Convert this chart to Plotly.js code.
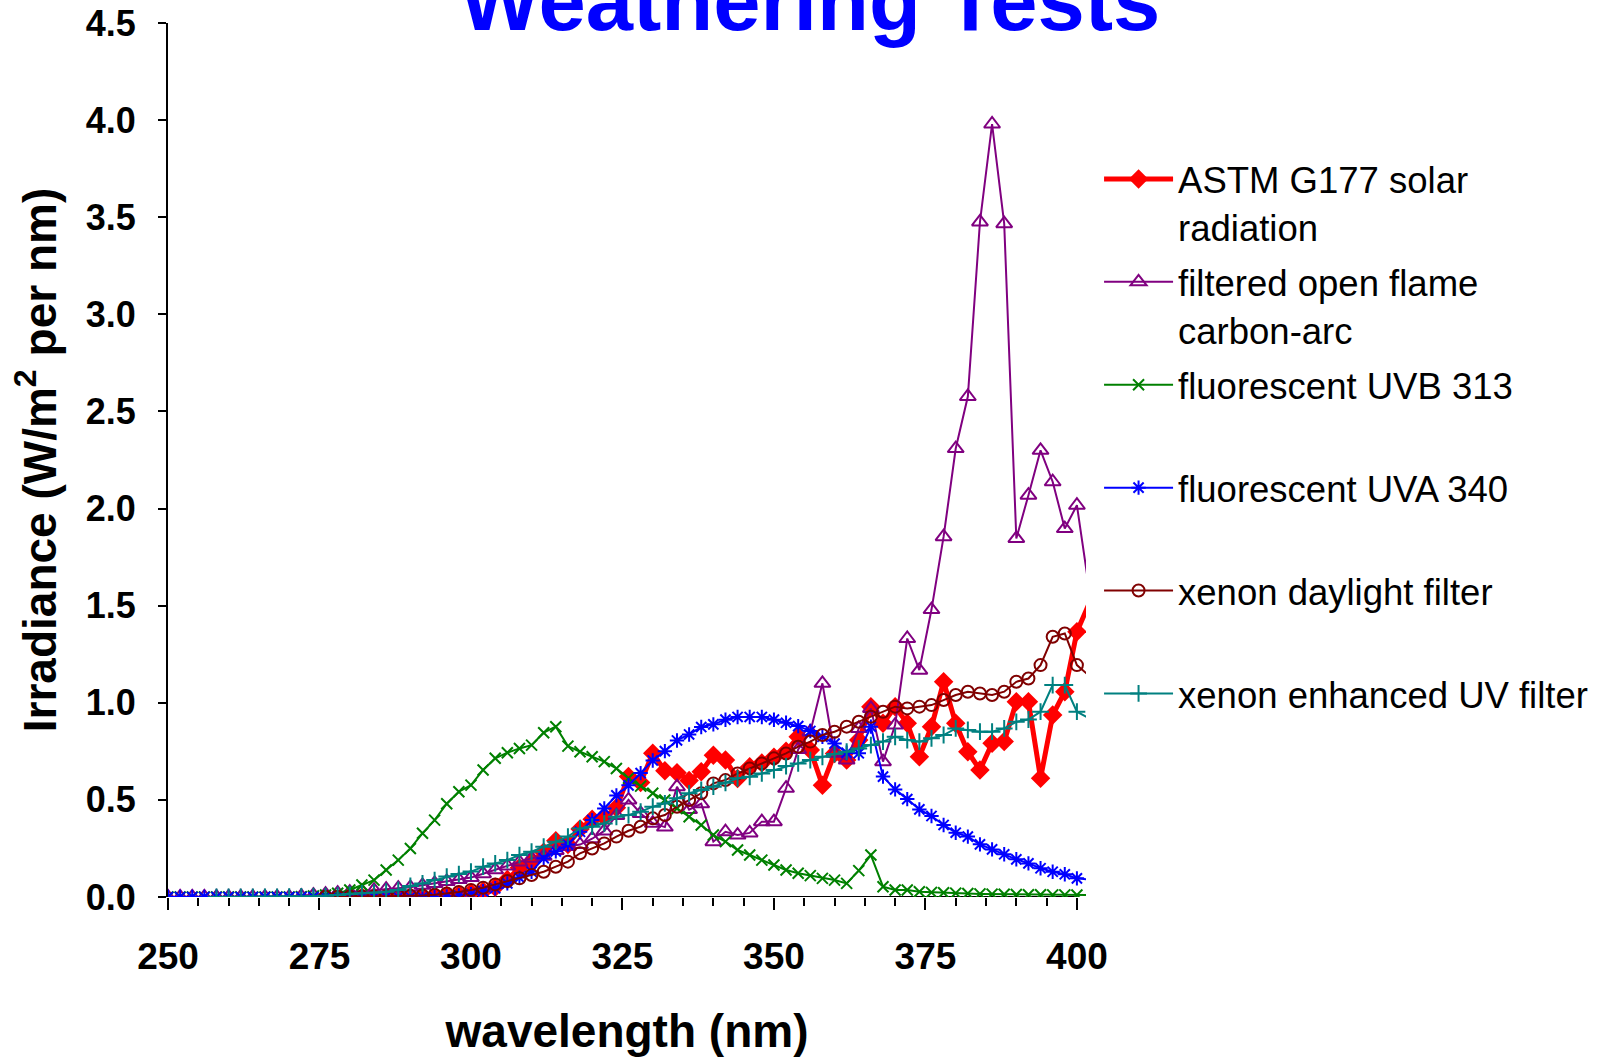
<!DOCTYPE html>
<html>
<head>
<meta charset="utf-8">
<script src="https://cdn.plot.ly/plotly-3.0.1.min.js"></script>
<style>html,body{margin:0;padding:0;background:#fff;}#chart{width:1604px;height:1057px;}</style>
</head>
<body>
<div id="chart"></div>
<script>
// wavelength (nm)
const wavelength = [
  250,252,254,256,258,260,262,264,266,268,
  270,272,274,276,278,280,282,284,286,288,
  290,292,294,296,298,300,302,304,306,308,
  310,312,314,316,318,320,322,324,326,328,
  330,332,334,336,338,340,342,344,346,348,
  350,352,354,356,358,360,362,364,366,368,
  370,372,374,376,378,380,382,384,386,388,
  390,392,394,396,398,400,402
];

const astmG177 = [
  null,null,null,null,null,null,null,null,null,null,
  null,null,null,null,null,0,0,0.001,0.001,0.002,
  0.002,0.003,0.005,0.008,0.012,0.02,0.03,0.05,0.09,0.15,
  0.18,0.23,0.29,0.27,0.35,0.40,0.41,0.46,0.62,0.59,
  0.74,0.65,0.64,0.60,0.645,0.73,0.705,0.61,0.67,0.69,
  0.72,0.75,0.825,0.757,0.576,0.739,0.705,0.808,0.98,0.894,
  0.98,0.894,0.722,0.877,1.108,0.894,0.748,0.654,0.791,0.8,
  1.005,1.005,0.611,0.937,1.057,1.366,1.51
];

const carbonArc = [
  0,0,0,0,0,0,0,0,0,0,
  0,0.005,0.01,0.015,0.02,0.025,0.03,0.035,0.04,0.045,
  0.05,0.06,0.07,0.08,0.09,0.10,0.12,0.14,0.16,0.18,
  0.20,0.21,0.24,0.26,0.27,0.30,0.34,0.42,0.50,0.43,
  0.38,0.36,0.568,0.45,0.48,0.285,0.336,0.319,0.33,0.388,
  0.388,0.56,0.76,0.85,1.10,0.74,0.705,0.868,0.971,0.697,
  0.885,1.331,1.168,1.48,1.855,2.309,2.577,3.476,3.98,3.467,
  1.846,2.069,2.3,2.138,1.897,2.017,1.59
];

const uvb313 = [
  0,0,0,0,0,0,0,0,0,0,
  0,0.002,0.005,0.01,0.019,0.036,0.062,0.087,0.139,0.19,
  0.25,0.328,0.396,0.48,0.542,0.576,0.654,0.714,0.743,0.765,
  0.782,0.846,0.877,0.777,0.748,0.722,0.697,0.662,0.611,0.571,
  0.534,0.499,0.456,0.413,0.371,0.319,0.285,0.242,0.216,0.19,
  0.165,0.139,0.122,0.11,0.096,0.087,0.07,0.136,0.216,0.053,
  0.036,0.036,0.027,0.024,0.022,0.02,0.018,0.016,0.015,0.014,
  0.013,0.012,0.012,0.011,0.011,0.01,0.01
];

const uva340 = [
  0,0,0,0,0,0,0,0,0,0,
  0,0,0,0,0,0,0,0,0,0,
  0,0,0,0.003,0.008,0.015,0.03,0.045,0.07,0.10,
  0.13,0.20,0.235,0.27,0.336,0.396,0.456,0.523,0.575,0.638,
  0.703,0.751,0.806,0.837,0.875,0.889,0.913,0.927,0.927,0.927,
  0.913,0.897,0.88,0.855,0.825,0.79,0.743,0.74,0.877,0.62,
  0.554,0.504,0.451,0.417,0.371,0.331,0.311,0.271,0.245,0.22,
  0.194,0.173,0.148,0.13,0.117,0.096,0.09
];

const xenonDaylight = [
  null,null,null,null,null,null,null,null,null,null,
  null,null,null,0.001,0.001,0.002,0.002,0.003,0.004,0.005,
  0.006,0.008,0.012,0.018,0.026,0.036,0.048,0.065,0.082,0.096,
  0.113,0.13,0.156,0.182,0.225,0.25,0.276,0.311,0.341,0.362,
  0.405,0.422,0.465,0.499,0.534,0.585,0.602,0.636,0.662,0.688,
  0.714,0.739,0.774,0.80,0.834,0.851,0.877,0.902,0.928,0.954,
  0.98,0.971,0.98,0.988,1.014,1.04,1.057,1.048,1.04,1.057,
  1.108,1.125,1.194,1.34,1.357,1.194,1.14
];

const xenonEnhancedUV = [
  null,null,null,null,0,0,0,0,0.001,0.001,
  0.002,0.003,0.004,0.006,0.01,0.015,0.019,0.022,0.027,0.036,
  0.057,0.07,0.087,0.105,0.118,0.131,0.156,0.173,0.19,0.216,
  0.233,0.259,0.285,0.311,0.353,0.362,0.379,0.413,0.422,0.439,
  0.465,0.482,0.508,0.534,0.551,0.568,0.588,0.611,0.619,0.636,
  0.654,0.674,0.688,0.705,0.722,0.736,0.748,0.765,0.782,0.80,
  0.825,0.808,0.80,0.817,0.834,0.868,0.86,0.851,0.851,0.868,
  0.902,0.914,0.954,1.091,1.091,0.954,0.92
];

const seriesNames = [
  'ASTM G177 solar<br>radiation',
  'filtered open flame<br>carbon-arc',
  'fluorescent UVB 313<br> ',
  'fluorescent UVA 340<br> ',
  'xenon daylight filter<br> ',
  'xenon enhanced UV filter<br> '
];

const xTickVals = [250, 275, 300, 325, 350, 375, 400];
const yTickVals = [0, 0.5, 1.0, 1.5, 2.0, 2.5, 3.0, 3.5, 4.0, 4.5];

const FONT = 'Liberation Sans, Arial, Helvetica, sans-serif';

// markers past the last axis tick are only used for the clipped line end
const markerOpacity = wavelength.map(w => (w > 400 ? 0 : 1));

function tr(idx, y, color, width, symbol, size, filled) {
  return {
    type: 'scatter', mode: 'lines+markers', name: seriesNames[idx],
    legendgroup: 'g' + idx,
    x: wavelength, y: y,
    line: {color: color, width: width},
    marker: {symbol: symbol, size: size, color: color, opacity: markerOpacity,
             line: {color: color, width: filled ? 0 : 2}},
    connectgaps: false
  };
}

const data = [
  tr(0, astmG177, '#FF0000', 5, 'diamond', 15, true),
  tr(1, carbonArc, '#800080', 2, 'triangle-up-open', 14, false),
  tr(2, uvb313, '#008000', 2, 'x-thin-open', 11, false),
  tr(3, uva340, '#0000FF', 2, 'asterisk-open', 12, false),
  tr(4, xenonDaylight, '#800000', 2, 'circle-open', 12, false),
  tr(5, xenonEnhancedUV, '#008080', 2, 'cross-thin-open', 12, false)
];

const layout = {
  width: 1604, height: 1057,
  paper_bgcolor: '#FFFFFF', plot_bgcolor: '#FFFFFF',
  margin: {l: 168, r: 518, t: 22.5, b: 160, pad: 0},
  font: {family: FONT, color: '#000000'},
  title: {
    text: '<b>Weathering Tests</b>',
    font: {family: FONT, size: 85, color: '#0000FF'},
    x: 0.505, xanchor: 'center', xref: 'container',
    y: 1, yanchor: 'middle', yref: 'container'
  },
  xaxis: {
    range: [250, 401.5],
    tickvals: xTickVals, ticktext: xTickVals.map(String),
    ticks: 'outside', ticklen: 12, tickwidth: 2, tickcolor: '#000',
    ticklabelstandoff: 15,
    tickfont: {family: FONT, size: 37, color: '#000', weight: 'bold'},
    showline: false, showgrid: false, zeroline: false,
    minor: {dtick: 5, tick0: 250, ticks: 'outside', ticklen: 8, tickwidth: 2, tickcolor: '#000', showgrid: false},
    title: {text: '<b>wavelength (nm)</b>', font: {family: FONT, size: 46, color: '#000'}, standoff: 43}
  },
  yaxis: {
    range: [0, 4.5],
    tickvals: yTickVals, ticktext: yTickVals.map(v => v.toFixed(1)),
    ticks: 'outside', ticklen: 8, tickwidth: 2, tickcolor: '#000',
    ticklabelstandoff: 15,
    tickfont: {family: FONT, size: 36, color: '#000', weight: 'bold'},
    showline: true, linecolor: '#000', linewidth: 2,
    showgrid: false, zeroline: false,
    title: {text: '<b>Irradiance (W/m<sup>2</sup> per nm)</b>', font: {family: FONT, size: 46, color: '#000'}, standoff: 15}
  },
  shapes: [{
    type: 'line', xref: 'x', yref: 'y', x0: 250, x1: 400, y0: 0, y1: 0,
    line: {color: '#000', width: 2}, layer: 'below'
  }],
  showlegend: true,
  legend: {
    x: 0.6852, xanchor: 'left', xref: 'container',
    y: 0.8593, yanchor: 'top', yref: 'container',
    font: {family: FONT, size: 36.5, color: '#000'},
    valign: 'top', bgcolor: 'rgba(0,0,0,0)', borderwidth: 0,
    itemwidth: 69, traceorder: 'grouped', tracegroupgap: 5,
    maxheight: 1000
  }
};

Plotly.newPlot('chart', data, layout, {displayModeBar: false, staticPlot: true});
</script>
</body>
</html>
